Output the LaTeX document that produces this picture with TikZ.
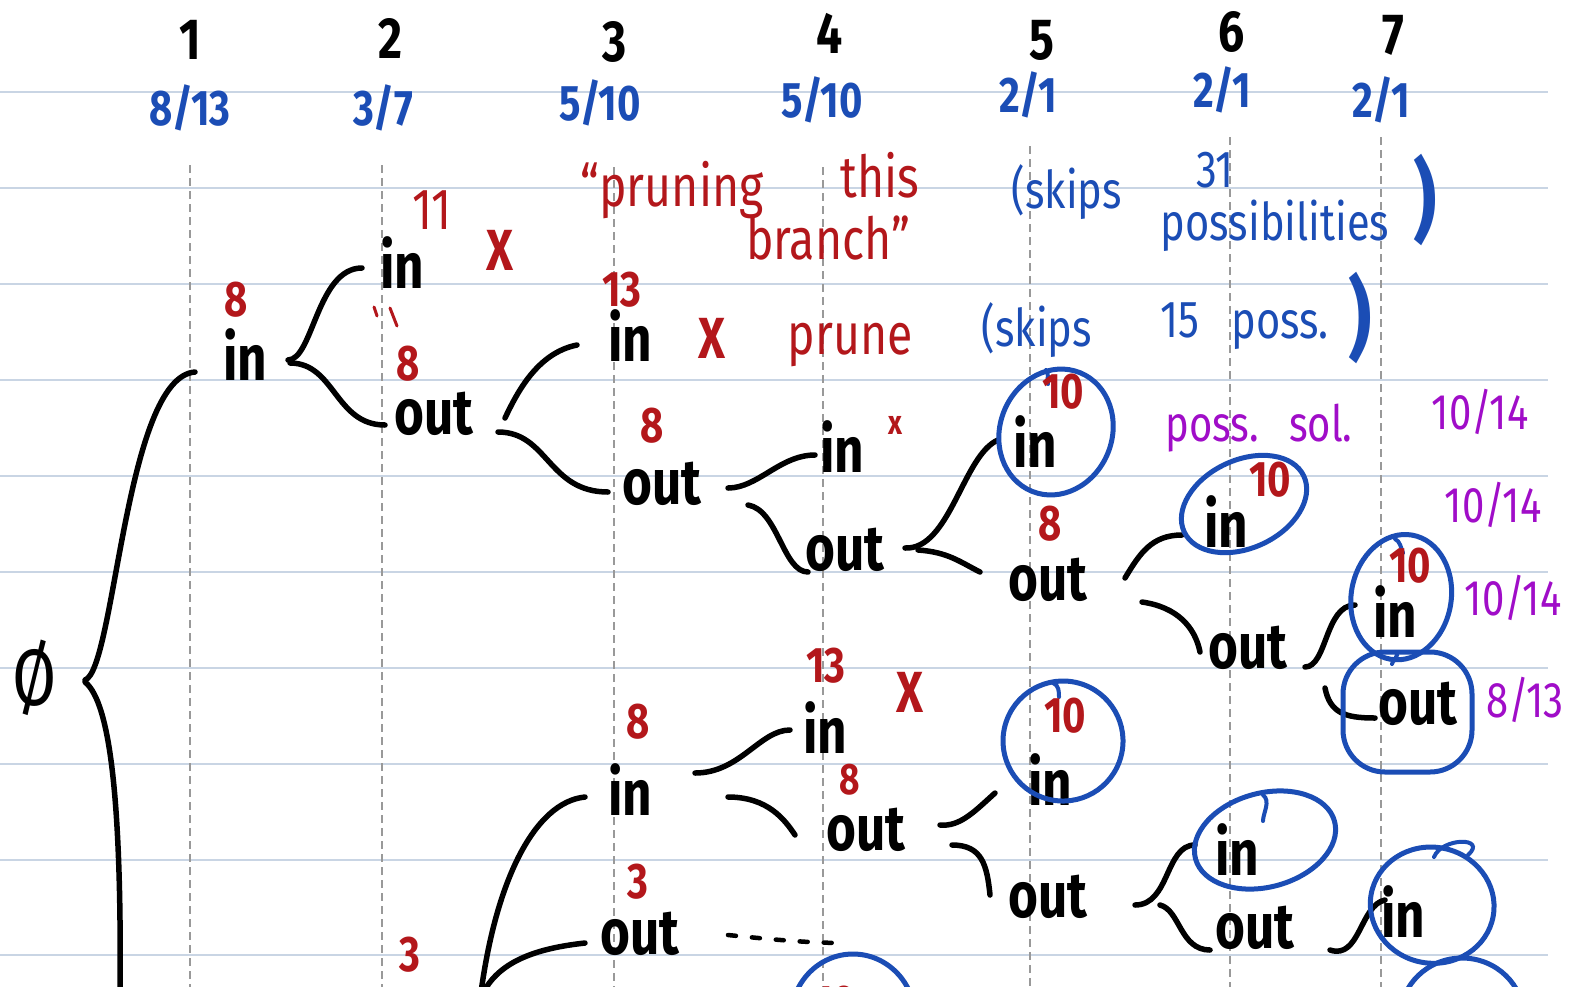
\documentclass[tikz,border=0pt]{standalone}
\usepackage{fontspec}
\usetikzlibrary{calc}
\setmainfont{Fira Sans}
\newfontfamily\hand[FakeStretch=0.8]{Fira Sans}
\definecolor{redc}{HTML}{B3171B}
\definecolor{blu}{HTML}{1B4DB5}
\definecolor{purp}{HTML}{A00DC8}
\definecolor{rulec}{HTML}{C9D5E4}
\definecolor{dashc}{HTML}{999999}
\tikzset{
  rulel/.style={draw=rulec, line width=1.6},
  dashv/.style={draw=dashc, line width=2.6, dash pattern=on 8 off 5},
  br/.style={draw=black, line width=5.5, line cap=round, line join=round},
  circ/.style={draw=blu, line width=5},
  tail/.style={draw=blu, line width=4, line cap=round},
  word/.style={font=\hand\bfseries\fontsize{64}{64}\selectfont, inner sep=2pt, text=black},
  hdr/.style={font=\hand\bfseries\fontsize{58}{58}\selectfont, text=black},
  frac/.style={font=\hand\bfseries\fontsize{50}{50}\selectfont, text=blu},
  rnum/.style={font=\hand\bfseries\fontsize{50}{50}\selectfont, text=redc},
  rtxt/.style={font=\hand\fontsize{58}{58}\selectfont, text=redc},
  rx/.style={font=\hand\bfseries\fontsize{58}{58}\selectfont, text=redc},
  btxt/.style={font=\hand\fontsize{52}{52}\selectfont, text=blu},
  ptxt/.style={font=\hand\fontsize{50}{50}\selectfont, text=purp},
}
\begin{document}
\begin{tikzpicture}[x=1pt,y=-1pt]
\fill[white] (0,0) rectangle (1570,986);
\useasboundingbox (0,0) rectangle (1570,986);
\begin{scope}
\clip (0,0) rectangle (1570,986);

% ruled paper
\foreach \yy in {92,188,284,380,476,572,668,764,860,955}
  \draw[rulel] (0,\yy) -- (1548,\yy);

% item columns
\foreach \xx/\yy in {190/165,382/165,614/167,823/167,1030/146,1230/137,1381/137}
  \draw[dashv] (\xx,\yy) -- (\xx,990);

% item numbers and weight/value
\node[hdr] (h1) at (190,40) {1};
\node[hdr] (h2) at (390,38) {2};
\node[hdr] (h3) at (615,42) {3};
\node[hdr] (h4) at (830,33) {4};
\node[hdr] (h5) at (1042,40) {5};
\node[hdr] (h6) at (1232,32) {6};
\node[hdr] (h7) at (1393,35) {7};
\node[frac] (f1) at (190,108) {8/13};
\node[frac] (f2) at (383,108) {3/7};
\node[frac] (f3) at (600,103) {5/10};
\node[frac] (f4) at (822,100) {5/10};
\node[frac] (f5) at (1028,95) {2/1};
\node[frac] (f6) at (1222,90) {2/1};
\node[frac] (f7) at (1381,100) {2/1};

% decision tree
\node[word, font=\hand\fontsize{80}{80}\selectfont] (r) at (35,678) {Ø};
\node[word] (a1) at (245,355) {in};
\node[word] (a2) at (402,263) {in};
\node[word] (b2) at (434,414) {out};
\node[word] (a3) at (630,336) {in};
\node[word] (b3) at (662,484) {out};
\node[word] (a4) at (842,447) {in};
\node[word] (b4) at (845,550) {out};
\node[word] (a5) at (1035,442) {in};
\node[word] (b5) at (1048,580) {out};
\node[word] (a6) at (1226,522) {in};
\node[word] (b6) at (1248,648) {out};
\node[word] (a7) at (1395,612) {in};
\node[word] (b7) at (1418,704) {out};
\node[word] (c3) at (630,790) {in};
\node[word] (d3) at (640,934) {out};
\node[word] (c4) at (825,728) {in};
\node[word] (d4) at (866,830) {out};
\node[word] (c5) at (1050,780) {in};
\node[word] (d5) at (1048,897) {out};
\node[word] (c6) at (1237,850) {in};
\node[word] (d6) at (1255,928) {out};
\node[word] (c7) at (1403,912) {in};
\coordinate (o1) at (120,1000);
\coordinate (o2) at (480,1000);

% branches
\draw[br] ($(r)+(50,2)$) .. controls +(30,-10) and +(-70,5) .. ($(a1)+(-50,17)$);
\draw[br] ($(r)+(50,4)$) .. controls +(25,20) and +(2,-200) .. (o1);
\draw[br] ($(a1)+(43,5)$) .. controls +(25,0) and +(-45,0) .. ($(a2)+(-40,5)$);
\draw[br] ($(a1)+(45,8)$) .. controls +(45,0) and +(-50,0) .. ($(b2)+(-49,11)$);
\draw[br] ($(b2)+(71,4)$) .. controls +(12,-25) and +(-40,8) .. ($(a3)+(-53,9)$);
\draw[br] ($(b2)+(64,18)$) .. controls +(50,0) and +(-60,0) .. ($(b3)+(-54,8)$);
\draw[br] ($(b3)+(66,4)$) .. controls +(30,0) and +(-35,0) .. ($(a4)+(-27,8)$);
\draw[br] ($(b3)+(86,21)$) .. controls +(30,5) and +(-25,0) .. ($(b4)+(-37,22)$);
\draw[br] ($(b4)+(60,-2)$) .. controls +(45,2) and +(-35,15) .. ($(a5)+(-37,-2)$);
\draw[br] ($(b4)+(73,0)$) .. controls +(30,2) and +(-20,-10) .. ($(b5)+(-68,-8)$);
\draw[br] ($(b5)+(77,-2)$) .. controls +(15,-25) and +(-30,0) .. ($(a6)+(-44,13)$);
\draw[br] ($(b5)+(94,22)$) .. controls +(35,5) and +(-5,-25) .. ($(b6)+(-48,4)$);
\draw[br] ($(b6)+(57,19)$) .. controls +(22,0) and +(-30,0) .. ($(a7)+(-40,-7)$);
\draw[br] ($(b6)+(77,40)$) .. controls +(5,25) and +(-30,0) .. ($(b7)+(-43,14)$);
\draw[br] (o2) .. controls +(15,-120) and +(-50,5) .. ($(c3)+(-45,7)$);
\draw[br] (o2) .. controls +(15,-40) and +(-45,5) .. ($(d3)+(-55,9)$);
\draw[br] ($(c3)+(65,-17)$) .. controls +(45,0) and +(-30,0) .. ($(c4)+(-35,2)$);
\draw[br] ($(c3)+(98,7)$) .. controls +(40,0) and +(-10,-15) .. ($(d4)+(-71,5)$);
\draw[br] ($(d4)+(74,-5)$) .. controls +(20,2) and +(-20,18) .. ($(c5)+(-55,13)$);
\draw[br] ($(d4)+(86,15)$) .. controls +(30,0) and +(-3,-30) .. ($(d5)+(-58,-2)$);
\draw[br] ($(d5)+(87,8)$) .. controls +(35,0) and +(-30,0) .. ($(c6)+(-42,-5)$);
\draw[br] ($(d5)+(112,8)$) .. controls +(20,5) and +(-30,0) .. ($(d6)+(-45,22)$);
\draw[br] ($(d6)+(75,22)$) .. controls +(30,10) and +(-25,5) .. ($(c7)+(-18,-12)$);
\draw[br, line width=4.5, dash pattern=on 8 off 16] ($(d3)+(88,1)$) .. controls +(40,4) and +(-40,0) .. ++(118,8);

% circled solutions
\path ($(a5)+(21,-10)$) coordinate (ka5)
      ($(a6)+(18,-18)$) coordinate (ka6)
      ($(a7)+(6,-15)$) coordinate (ka7)
      ($(c5)+(13,-39)$) coordinate (kc5)
      ($(c6)+(28,-10)$) coordinate (kc6)
      ($(c7)+(29,-7)$) coordinate (kc7);
\draw[circ, rotate around={-22:(ka5)}] (ka5) ellipse [x radius=56, y radius=64];
\draw[circ, rotate around={25:(ka6)}] (ka6) ellipse [x radius=66, y radius=44];
\draw[circ, rotate around={-10:(ka7)}] (ka7) ellipse [x radius=50, y radius=63];
\draw[circ, rounded corners=42] ($(b7)+(-75,-52)$) rectangle ($(b7)+(54,68)$);
\draw[circ, rotate around={-15:(kc5)}] (kc5) ellipse [x radius=60, y radius=60];
\draw[circ, rotate around={15:(kc6)}] (kc6) ellipse [x radius=72, y radius=47];
\draw[circ, rotate around={-10:(kc7)}] (kc7) ellipse [x radius=62, y radius=58];
\draw[circ] (853,1018) ellipse [x radius=62, y radius=64];
\draw[circ] (1462,1018) ellipse [x radius=62, y radius=60];
% pen tails where each loop closes
\draw[tail] ($(ka5)+(-10,-62)$) .. controls +(4,4) and +(-2,-4) .. +(2,14);
\draw[tail] ($(ka7)+(-6,-58)$) .. controls +(5,2) and +(-2,-5) .. +(8,14);
\draw[tail] ($(b7)+(-22,-52)$) .. controls +(4,4) and +(0,-4) .. +(-4,12);
\draw[tail] ($(kc5)+(-10,-58)$) .. controls +(6,2) and +(0,-5) .. +(6,14);
\draw[tail] ($(kc6)+(-2,-45)$) .. controls +(8,6) and +(0,-8) .. +(0,26);
\draw[tail] ($(kc7)+(2,-48)$) .. controls +(8,-20) and +(20,-18) .. +(34,-2);

% values and pruning notes
\node[rnum] (v1) at (236,300) {8};
\node[rtxt] (v2) at (432,210) {11};
\node[rx] (x2) at (500,250) {X};
\draw[redc, line width=3, line cap=round] (374,307) -- (377,316) (390,308) -- (397,326);
\node[rnum] (v3) at (408,364) {8};
\node[rnum] (v4) at (622,290) {13};
\node[rx] (x4) at (712,338) {X};
\node[rtxt] (pr) at (850,345) {prune};
\node[rtxt] (q1) at (672,190) {“pruning};
\node[rtxt] (q2) at (880,175) {this};
\node[rtxt] (q3) at (828,238) {branch”};
\node[rnum] (v5) at (652,426) {8};
\node[rx, font=\hand\bfseries\fontsize{34}{34}\selectfont] (x5) at (895,425) {x};
\node[rnum] (v6) at (1063,392) {10};
\node[rnum] (v7) at (1050,524) {8};
\node[rnum] (v8) at (1270,480) {10};
\node[rnum] (v9) at (1410,566) {10};
\node[rnum] (w1) at (826,666) {13};
\node[rx] (x6) at (910,692) {X};
\node[rnum] (w2) at (638,722) {8};
\node[rnum, font=\hand\bfseries\fontsize{44}{44}\selectfont] (w3) at (850,780) {8};
\node[rnum] (w4) at (638,882) {3};
\node[rnum] (w5) at (410,955) {3};
\node[rnum] (w6) at (1065,716) {10};
\node[rnum] (w7) at (835,1004) {10};

% skipped counts
\node[btxt] (s1) at (1067,192) {(skips};
\node[btxt] (s2) at (1215,170) {31};
\node[btxt] (s3) at (1275,226) {possibilities};
\node[btxt, font=\hand\bfseries\fontsize{90}{90}\selectfont] (s4) at (1425,200) {)};
\node[btxt] (t1) at (1037,330) {(skips};
\node[btxt] (t2) at (1180,320) {15};
\node[btxt] (t3) at (1280,330) {poss.};
\node[btxt, font=\hand\bfseries\fontsize{90}{90}\selectfont] (t4) at (1360,318) {)};

% candidate solutions
\node[ptxt] (p1) at (1259,428) {poss.\hspace{30pt}sol.};
\node[ptxt] (p2) at (1480,412) {10/14};
\node[ptxt] (p3) at (1493,505) {10/14};
\node[ptxt] (p4) at (1513,598) {10/14};
\node[ptxt] (p5) at (1525,700) {8/13};
\end{scope}
\end{tikzpicture}
\end{document}
